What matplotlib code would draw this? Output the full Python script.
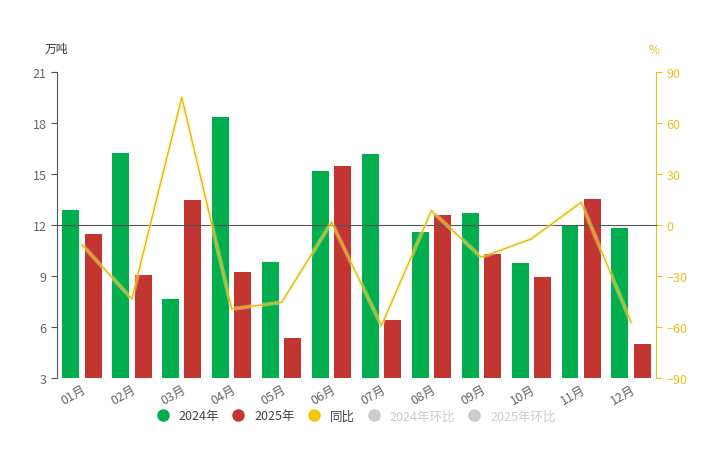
import numpy as np
import matplotlib
matplotlib.use("Agg")
import matplotlib.pyplot as plt
from matplotlib.lines import Line2D

plt.rcParams['font.family'] = ['Noto Sans CJK SC', 'DejaVu Sans']

months = ['01月', '02月', '03月', '04月', '05月', '06月',
          '07月', '08月', '09月', '10月', '11月', '12月']
y2024 = [12.9, 16.25, 7.66, 18.35, 9.84, 15.15, 16.15, 11.6, 12.72, 9.76, 12.0, 11.82]
y2025 = [11.45, 9.08, 13.45, 9.25, 5.37, 15.45, 6.41, 12.6, 10.3, 8.94, 13.55, 5.02]
yoy = [-11.6, -43.5, 75.1, -49.4, -45.5, 1.6, -59.2, 8.4, -19.0, -8.2, 13.3, -57.2]

green = '#00ae4d'
red = '#c23531'
yellow = '#e8c21a'
axis_grey = '#555555'
text_grey = '#666666'

fig = plt.figure(figsize=(7.05, 4.56), dpi=100)
ax = fig.add_axes([0.0809, 0.1689, 0.8496, 0.671])
ax2 = ax.twinx()

x = np.arange(len(months))
w = 0.34
ax.bar(x - 0.223, y2024, w, color=green, zorder=2)
ax.bar(x + 0.223, y2025, w, color=red, zorder=2)

ax.set_xlim(-0.5, 11.5)
ax.set_ylim(3, 21)
ax.set_yticks([3, 6, 9, 12, 15, 18, 21])
ax2.set_ylim(-90, 90)
ax2.set_yticks([-90, -60, -30, 0, 30, 60, 90])

# yoy line with a soft glow
ax2.plot(x, yoy, color='#f5e79a', lw=3.0, alpha=0.45, zorder=3)
ax2.plot(x, yoy, color='#e2b800', lw=0.9, zorder=4)

# spines
for s in ['top', 'right', 'bottom']:
    ax.spines[s].set_visible(False)
ax.spines['left'].set_color(axis_grey)
for s in ['top', 'left']:
    ax2.spines[s].set_visible(False)
ax2.spines['right'].set_color(yellow)
ax2.spines['bottom'].set_position(('data', 0))
ax2.spines['bottom'].set_color(axis_grey)

# ticks
ax.set_xticks(x)
ax.set_xticks(np.arange(-0.5, 12, 1), minor=True)
ax.set_xticklabels(months, rotation=30, ha='right', rotation_mode='anchor')
ax.tick_params(axis='x', which='both', length=0, labelsize=9, colors=text_grey, pad=3)
ax2.tick_params(axis='x', which='major', length=0, labelbottom=False)
ax2.tick_params(axis='x', which='minor', length=4, direction='out', color=axis_grey, labelbottom=False)
ax.tick_params(axis='y', length=4, color=axis_grey, labelcolor=text_grey, labelsize=9)
ax2.tick_params(axis='y', length=4, color=yellow, labelcolor=yellow, labelsize=9)

fig.text(0.0809 - 0.018, 0.885, '万吨', fontsize=8.5, color='#333333', ha='left')
fig.text(0.9305 - 0.01, 0.882, '%', fontsize=8.5, color=yellow, ha='left')

handles = [
    Line2D([], [], marker='o', ls='', color=green, markersize=8),
    Line2D([], [], marker='o', ls='', color=red, markersize=8),
    Line2D([], [], marker='o', ls='', color='#f0c808', markersize=8),
    Line2D([], [], marker='o', ls='', color='#cccccc', markersize=8),
    Line2D([], [], marker='o', ls='', color='#cccccc', markersize=8),
]
labels = ['2024年', '2025年', '同比', '2024年环比', '2025年环比']
leg = fig.legend(handles, labels, loc='center', bbox_to_anchor=(0.505, 0.086), ncol=5,
                 frameon=False, fontsize=9, handletextpad=0.8, columnspacing=1.0,
                 handlelength=1.0)
for i, t in enumerate(leg.get_texts()):
    t.set_color('#444444' if i < 3 else '#cccccc')

fig.savefig('out.png', dpi=100)
